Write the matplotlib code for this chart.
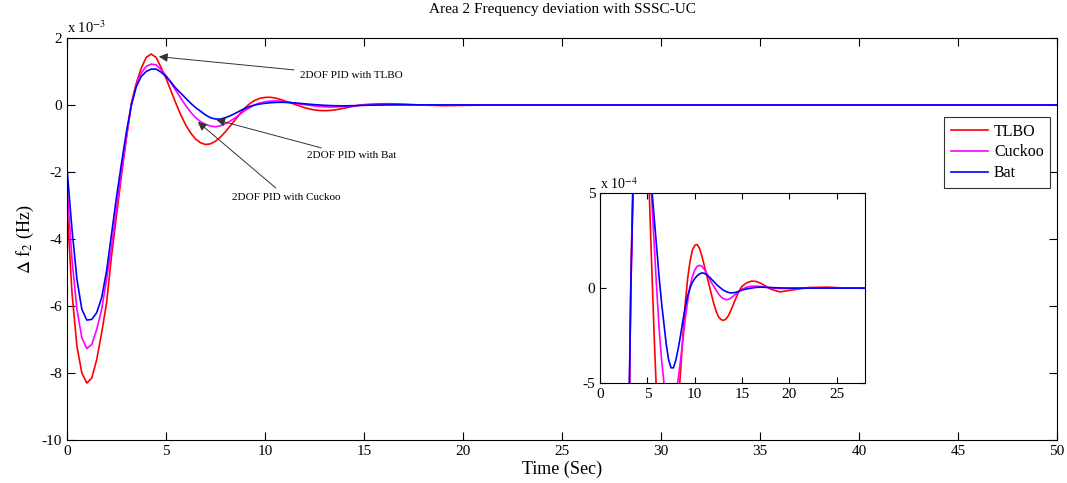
import matplotlib
matplotlib.use("Agg")
import matplotlib.pyplot as plt
import numpy as np

plt.rcParams['font.family'] = ['Liberation Serif', 'DejaVu Serif']
plt.rcParams['axes.unicode_minus'] = False
plt.rcParams['mathtext.fontset'] = 'stix'

# time samples (sec): every 0.25 s up to 15 s, coarser afterwards
time = [i * 0.25 for i in range(61)] + [15.5, 16, 16.5, 17, 18, 19, 20, 22, 24, 26, 28, 30, 40, 50]

# frequency deviation, in units of 1e-3 Hz
tlbo = [-3.0, -5.6, -7.2, -8.0, -8.3, -8.15, -7.6, -6.8, -5.9, -4.5,
        -3.3, -2.1, -1.0, 0.05, 0.65, 1.1, 1.42, 1.52, 1.42, 1.12,
        0.8, 0.42, 0.05, -0.3, -0.6, -0.84, -1.02, -1.13, -1.18, -1.16,
        -1.08, -0.96, -0.8, -0.62, -0.44, -0.25, -0.08, 0.05, 0.14, 0.2,
        0.225, 0.23, 0.21, 0.17, 0.12, 0.07, 0.02, -0.03, -0.08, -0.12,
        -0.15, -0.165, -0.17, -0.165, -0.15, -0.125, -0.095, -0.065, -0.035, -0.01,
        0.01,
        0.028, 0.037, 0.035, 0.025, -0.005, -0.02, -0.012, 0.003, 0.005, 0.0, 0.0, 0.0, 0.0, 0.0]

cuckoo = [-2.4, -4.6, -6.1, -6.95, -7.27, -7.15, -6.7, -6.1, -5.2, -4.25,
          -3.1, -2.0, -0.95, 0.0, 0.6, 0.95, 1.15, 1.22, 1.2, 1.05,
          0.88, 0.66, 0.43, 0.2, -0.02, -0.22, -0.38, -0.5, -0.58, -0.63,
          -0.65, -0.62, -0.56, -0.48, -0.38, -0.27, -0.16, -0.07, 0.01, 0.06,
          0.095, 0.115, 0.12, 0.115, 0.1, 0.08, 0.055, 0.03, 0.01, -0.01,
          -0.03, -0.045, -0.055, -0.06, -0.06, -0.055, -0.045, -0.035, -0.025, -0.015,
          -0.005,
          0.005, 0.01, 0.01, 0.008, 0.002, -0.002, -0.002, 0.0, 0.0, 0.0, 0.0, 0.0, 0.0, 0.0]

bat = [-1.9, -3.7, -5.2, -6.1, -6.42, -6.4, -6.2, -5.75, -4.95, -3.85,
       -2.75, -1.75, -0.8, 0.0, 0.55, 0.85, 1.0, 1.07, 1.07, 0.98,
       0.85, 0.68, 0.5, 0.35, 0.2, 0.05, -0.08, -0.19, -0.3, -0.38,
       -0.42, -0.42, -0.38, -0.32, -0.25, -0.17, -0.1, -0.04, 0.0, 0.03,
       0.05, 0.065, 0.075, 0.08, 0.078, 0.07, 0.06, 0.048, 0.035, 0.022,
       0.01, 0.0, -0.01, -0.017, -0.022, -0.025, -0.025, -0.023, -0.02, -0.015,
       -0.01,
       -0.004, 0.0, 0.004, 0.005, 0.003, 0.001, 0.0, 0.0, 0.0, 0.0, 0.0, 0.0, 0.0, 0.0]

names = ["TLBO", "Cuckoo", "Bat"]
colors = ["#FF0000", "#FF00FF", "#0000FF"]
series = [tlbo, cuckoo, bat]

t = np.array(time)

fig = plt.figure(figsize=(10.67, 4.83), dpi=100)
ax = fig.add_axes([0.0628, 0.089, 0.9278, 0.8324])

for name, col, y in zip(names, colors, series):
    ax.plot(t, np.array(y), color=col, lw=1.2, label=name)

ax.set_xlim(0, 50)
ax.set_ylim(-10, 2)
ax.set_xticks(np.arange(0, 51, 5))
ax.set_yticks(np.arange(-10, 3, 2))
ax.tick_params(direction='in', top=True, right=True, length=6, labelsize=11)
ax.text(0.0, 1.006, r"x 10$^{-3}$", transform=ax.transAxes, fontsize=10.5, va='bottom')
ax.set_title("Area 2 Frequency deviation with SSSC-UC", fontsize=11, pad=18)
ax.set_xlabel("Time (Sec)", fontsize=13, labelpad=2)
ax.set_ylabel(r"$\Delta$ f$_2$ (Hz)", fontsize=13, labelpad=4)

arrow = dict(arrowstyle='-|>', color='0.2', lw=0.7, mutation_scale=13)
ax.annotate("2DOF PID with TLBO", xy=(4.5, 1.45), xytext=(11.75, 0.88),
            fontsize=8, va='center', ha='left', arrowprops=arrow)
ax.annotate("2DOF PID with Bat", xy=(7.4, -0.42), xytext=(12.1, -1.52),
            fontsize=8, va='center', ha='left', arrowprops=arrow)
ax.annotate("2DOF PID with Cuckoo", xy=(6.5, -0.45), xytext=(8.35, -2.75),
            fontsize=8, va='center', ha='left', arrowprops=arrow)

leg = ax.legend(loc='upper right', bbox_to_anchor=(0.993, 0.803), borderaxespad=0,
                fontsize=11.5, fancybox=False, edgecolor='k', handlelength=2.3,
                borderpad=0.4, labelspacing=0.3, handletextpad=0.4)
leg.get_frame().set_linewidth(0.8)

# inset zoom
axi = fig.add_axes([0.5624, 0.207, 0.2484, 0.393])
for name, col, y in zip(names, colors, series):
    axi.plot(t, np.array(y) * 10, color=col, lw=1.2)
axi.set_xlim(0, 28)
axi.set_ylim(-5, 5)
axi.set_xticks(np.arange(0, 26, 5))
axi.set_yticks([-5, 0, 5])
axi.tick_params(direction='in', top=True, right=True, length=4, labelsize=11)
axi.text(0.0, 1.006, r"x 10$^{-4}$", transform=axi.transAxes, fontsize=10, va='bottom')

fig.savefig("out.png", dpi=100)
